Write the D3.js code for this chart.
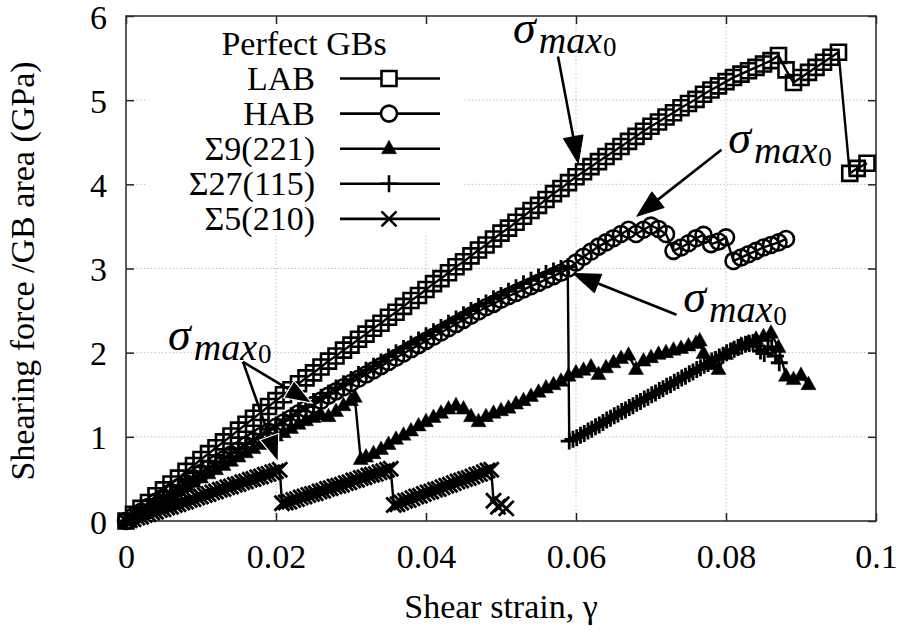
<!DOCTYPE html>
<html><head><meta charset="utf-8">
<script src="https://cdn.jsdelivr.net/npm/d3@7"></script>
</head><body style="margin:0;background:#fff">
<svg id="c" width="901" height="632" style="display:block" font-family="Liberation Serif"></svg>
<script>
const xTicks=[0,0.02,0.04,0.06,0.08,0.1];
const xTickLabels=["0","0.02","0.04","0.06","0.08","0.1"];
const yTicks=[0,1,2,3,4,5,6];
const yTickLabels=["0","1","2","3","4","5","6"];
const legendTitle="Perfect GBs";
const seriesNames=["LAB","HAB","Σ9(221)","Σ27(115)","Σ5(210)"];
const seriesMarkers=["square","circle","triangle","plus","x"];
const xLabel="Shear strain, γ";
const yLabel="Shearing force /GB area (GPa)";

const lab=[[0,0],[0.001,0.08],[0.002,0.15],[0.003,0.22],[0.004,0.30],[0.005,0.37],[0.006,0.44],[0.007,0.51],[0.008,0.59],[0.009,0.66],[0.010,0.73],[0.011,0.80],[0.012,0.87],[0.013,0.94],[0.014,1.01],[0.015,1.08],[0.016,1.15],[0.017,1.22],[0.018,1.29],[0.019,1.36],[0.020,1.43],[0.021,1.50],[0.022,1.56],[0.023,1.63],[0.024,1.70],[0.025,1.76],[0.026,1.83],[0.027,1.90],[0.028,1.96],[0.029,2.03],[0.030,2.09],[0.031,2.16],[0.032,2.22],[0.033,2.29],[0.034,2.35],[0.035,2.42],[0.036,2.48],[0.037,2.55],[0.038,2.62],[0.039,2.68],[0.040,2.75],[0.041,2.82],[0.042,2.88],[0.043,2.95],[0.044,3.02],[0.045,3.08],[0.046,3.15],[0.047,3.22],[0.048,3.28],[0.049,3.35],[0.050,3.42],[0.051,3.48],[0.052,3.55],[0.053,3.62],[0.054,3.69],[0.055,3.75],[0.056,3.82],[0.057,3.89],[0.058,3.95],[0.059,4.02],[0.060,4.09],[0.061,4.15],[0.062,4.21],[0.063,4.27],[0.064,4.33],[0.065,4.39],[0.066,4.45],[0.067,4.51],[0.068,4.57],[0.069,4.63],[0.070,4.69],[0.071,4.74],[0.072,4.80],[0.073,4.85],[0.074,4.91],[0.075,4.96],[0.076,5.01],[0.077,5.07],[0.078,5.12],[0.079,5.17],[0.080,5.22],[0.081,5.27],[0.082,5.31],[0.083,5.35],[0.084,5.39],[0.085,5.43],[0.086,5.47],[0.087,5.53],[0.088,5.36],[0.089,5.21],[0.090,5.27],[0.091,5.33],[0.092,5.39],[0.093,5.45],[0.094,5.51],[0.095,5.57],[0.0965,4.13],[0.0975,4.19],[0.0988,4.25]];

const hab=[[0,0],[0.001,0.06],[0.002,0.11],[0.003,0.17],[0.004,0.23],[0.005,0.28],[0.006,0.34],[0.007,0.40],[0.008,0.45],[0.009,0.51],[0.010,0.57],[0.011,0.62],[0.012,0.68],[0.013,0.73],[0.014,0.79],[0.015,0.84],[0.016,0.90],[0.017,0.95],[0.018,1.01],[0.019,1.06],[0.020,1.12],[0.021,1.17],[0.022,1.22],[0.023,1.28],[0.024,1.33],[0.025,1.38],[0.026,1.43],[0.027,1.49],[0.028,1.54],[0.029,1.59],[0.030,1.64],[0.031,1.69],[0.032,1.74],[0.033,1.79],[0.034,1.84],[0.035,1.89],[0.036,1.94],[0.037,1.99],[0.038,2.04],[0.039,2.09],[0.040,2.14],[0.041,2.19],[0.042,2.24],[0.043,2.29],[0.044,2.34],[0.045,2.39],[0.046,2.44],[0.047,2.49],[0.048,2.54],[0.049,2.58],[0.050,2.63],[0.051,2.67],[0.052,2.71],[0.053,2.75],[0.054,2.79],[0.055,2.83],[0.056,2.87],[0.057,2.91],[0.058,2.95],[0.059,3.00],[0.060,3.07],[0.061,3.14],[0.062,3.20],[0.063,3.26],[0.064,3.31],[0.065,3.36],[0.066,3.41],[0.067,3.46],[0.068,3.41],[0.069,3.46],[0.070,3.51],[0.071,3.47],[0.072,3.41],[0.073,3.21],[0.074,3.25],[0.075,3.30],[0.076,3.36],[0.077,3.40],[0.078,3.29],[0.079,3.32],[0.080,3.37],[0.081,3.09],[0.082,3.13],[0.083,3.17],[0.084,3.21],[0.085,3.25],[0.086,3.28],[0.087,3.31],[0.088,3.35]];

const s9=[[0,0],[0.001,0.05],[0.002,0.10],[0.003,0.15],[0.004,0.20],[0.005,0.26],[0.006,0.31],[0.007,0.36],[0.008,0.41],[0.009,0.46],[0.010,0.51],[0.011,0.56],[0.012,0.61],[0.013,0.66],[0.014,0.71],[0.015,0.76],[0.016,0.81],[0.017,0.86],[0.018,0.91],[0.019,0.96],[0.020,1.01],[0.021,1.05],[0.022,1.10],[0.023,1.15],[0.024,1.19],[0.025,1.23],[0.026,1.26],[0.027,1.24],[0.028,1.30],[0.029,1.37],[0.030,1.43],[0.0305,1.47],[0.0313,0.73],[0.032,0.76],[0.033,0.80],[0.034,0.85],[0.035,0.91],[0.036,0.97],[0.037,1.02],[0.038,1.07],[0.039,1.13],[0.040,1.18],[0.041,1.23],[0.042,1.28],[0.043,1.33],[0.044,1.37],[0.045,1.33],[0.046,1.24],[0.047,1.18],[0.048,1.24],[0.049,1.28],[0.050,1.31],[0.051,1.34],[0.052,1.39],[0.053,1.43],[0.054,1.48],[0.055,1.53],[0.056,1.58],[0.057,1.62],[0.058,1.66],[0.059,1.72],[0.060,1.76],[0.061,1.79],[0.062,1.83],[0.063,1.74],[0.064,1.82],[0.065,1.88],[0.066,1.93],[0.067,1.97],[0.068,1.80],[0.069,1.90],[0.070,1.94],[0.071,1.98],[0.072,2.00],[0.073,2.03],[0.074,2.05],[0.075,2.08],[0.076,2.11],[0.0765,2.14],[0.077,1.99],[0.078,1.86],[0.079,1.80],[0.080,1.98],[0.081,2.04],[0.082,2.09],[0.083,2.12],[0.084,2.16],[0.085,2.19],[0.086,2.23],[0.087,2.06],[0.088,1.72],[0.089,1.68],[0.090,1.73],[0.091,1.62]];

const s27=[[0,0],[0.001,0.06],[0.002,0.12],[0.003,0.17],[0.004,0.23],[0.005,0.29],[0.006,0.35],[0.007,0.40],[0.008,0.46],[0.009,0.52],[0.010,0.58],[0.011,0.64],[0.012,0.69],[0.013,0.75],[0.014,0.81],[0.015,0.86],[0.016,0.92],[0.017,0.97],[0.018,1.03],[0.019,1.09],[0.020,1.14],[0.021,1.20],[0.022,1.25],[0.023,1.31],[0.024,1.36],[0.025,1.42],[0.026,1.47],[0.027,1.52],[0.028,1.58],[0.029,1.63],[0.030,1.68],[0.031,1.74],[0.032,1.79],[0.033,1.84],[0.034,1.89],[0.035,1.95],[0.036,2.00],[0.037,2.05],[0.038,2.10],[0.039,2.15],[0.040,2.20],[0.041,2.25],[0.042,2.30],[0.043,2.35],[0.044,2.40],[0.045,2.45],[0.046,2.50],[0.047,2.55],[0.048,2.59],[0.049,2.64],[0.050,2.68],[0.051,2.73],[0.052,2.77],[0.053,2.82],[0.054,2.86],[0.055,2.90],[0.056,2.94],[0.057,2.97],[0.058,3.00],[0.0589,3.02],[0.0591,0.95],[0.0596,0.97],[0.0601,0.99],[0.0606,1.02],[0.0611,1.04],[0.0616,1.07],[0.0621,1.09],[0.0626,1.12],[0.0631,1.14],[0.0636,1.17],[0.0641,1.20],[0.0646,1.22],[0.0651,1.25],[0.0656,1.27],[0.0661,1.30],[0.0666,1.32],[0.0671,1.35],[0.0676,1.37],[0.0681,1.40],[0.0686,1.42],[0.0691,1.45],[0.0696,1.47],[0.0701,1.50],[0.0706,1.52],[0.0711,1.55],[0.0716,1.57],[0.0721,1.60],[0.0726,1.62],[0.0731,1.65],[0.0736,1.67],[0.0741,1.70],[0.0746,1.72],[0.0751,1.75],[0.0756,1.77],[0.0761,1.80],[0.0766,1.82],[0.0771,1.85],[0.0776,1.87],[0.0781,1.90],[0.0786,1.92],[0.0791,1.95],[0.0796,1.97],[0.0801,2.00],[0.0806,2.02],[0.0811,2.04],[0.0816,2.06],[0.0821,2.08],[0.0826,2.10],[0.0831,2.11],[0.0836,2.12],[0.0841,2.08],[0.0846,2.02],[0.0851,1.99],[0.0856,2.04],[0.0861,2.07],[0.0866,1.96],[0.0871,1.88]];

const s5=[[0,0],[0.0005,0.01],[0.0010,0.02],[0.0015,0.04],[0.0020,0.05],[0.0025,0.07],[0.0030,0.08],[0.0035,0.10],[0.0040,0.11],[0.0045,0.13],[0.0050,0.14],[0.0055,0.16],[0.0060,0.17],[0.0065,0.19],[0.0070,0.20],[0.0075,0.22],[0.0080,0.23],[0.0085,0.25],[0.0090,0.26],[0.0095,0.28],[0.0100,0.29],[0.0105,0.31],[0.0110,0.32],[0.0115,0.34],[0.0120,0.35],[0.0125,0.37],[0.0130,0.38],[0.0135,0.40],[0.0140,0.41],[0.0145,0.43],[0.0150,0.44],[0.0155,0.46],[0.0160,0.47],[0.0165,0.49],[0.0170,0.50],[0.0175,0.52],[0.0180,0.53],[0.0185,0.55],[0.0190,0.56],[0.0195,0.58],[0.0200,0.59],[0.0205,0.61],[0.0208,0.21],[0.0213,0.22],[0.0218,0.23],[0.0223,0.25],[0.0228,0.26],[0.0233,0.28],[0.0238,0.29],[0.0243,0.31],[0.0248,0.32],[0.0253,0.33],[0.0258,0.35],[0.0263,0.36],[0.0268,0.38],[0.0273,0.39],[0.0278,0.41],[0.0283,0.42],[0.0288,0.43],[0.0293,0.45],[0.0298,0.46],[0.0303,0.48],[0.0308,0.49],[0.0313,0.51],[0.0318,0.52],[0.0323,0.54],[0.0328,0.55],[0.0333,0.56],[0.0338,0.58],[0.0343,0.59],[0.0348,0.61],[0.0353,0.62],[0.0357,0.19],[0.0362,0.20],[0.0367,0.22],[0.0372,0.24],[0.0377,0.25],[0.0382,0.27],[0.0387,0.29],[0.0392,0.30],[0.0397,0.32],[0.0402,0.34],[0.0407,0.35],[0.0412,0.37],[0.0417,0.38],[0.0422,0.40],[0.0427,0.42],[0.0432,0.43],[0.0437,0.45],[0.0442,0.47],[0.0447,0.48],[0.0452,0.50],[0.0457,0.51],[0.0462,0.53],[0.0467,0.55],[0.0472,0.56],[0.0477,0.58],[0.0482,0.60],[0.0487,0.61],[0.0490,0.24],[0.0496,0.17],[0.0501,0.20],[0.0507,0.15]];

const seriesData=[lab,hab,s9,s27,s5];

// annotations: text anchor (strain, stress) and arrows [from, to] in data units
const annoLabels=[[0.0516,5.68],[0.0803,4.37],[0.0743,2.48],[0.0056,2.03]];
const annoArrows=[[[0.0576,5.52],[0.0603,4.25]],[[0.0794,4.41],[0.0681,3.62]],[[0.0734,2.45],[0.0596,2.94]],[[0.0156,1.89],[0.0248,1.40]],[[0.0156,1.89],[0.0203,0.70]]];

const FONT='"Liberation Serif"';
const svg=d3.select("#c");
const x=d3.scaleLinear().domain([0,0.1]).range([126,876]);
const y=d3.scaleLinear().domain([0,6]).range([521,16]);
const L=126,R=876,T=16,B=521;

// grid
const grid=svg.append("g").attr("stroke","#b4b4b4").attr("stroke-width",1).attr("stroke-dasharray","1.2,2.4");
grid.selectAll(".gx").data(xTicks.slice(1,-1)).join("line").attr("x1",d=>x(d)).attr("x2",d=>x(d)).attr("y1",T).attr("y2",B);
grid.selectAll(".gy").data(yTicks.slice(1,-1)).join("line").attr("y1",d=>y(d)).attr("y2",d=>y(d)).attr("x1",L).attr("x2",R);

// legend background (opaque key)
svg.append("rect").attr("x",147).attr("y",T+1).attr("width",315).attr("height",218).attr("fill","#fff");

// axes
function styleAxis(g){g.attr("font-family",null);g.select(".domain").remove();g.selectAll(".tick line").attr("stroke","#222").attr("stroke-width",1.5);}
svg.append("g").attr("transform",`translate(0,${B})`)
  .call(d3.axisBottom(x).tickValues(xTicks).tickFormat((d,i)=>xTickLabels[i]).tickSizeInner(-8).tickSizeOuter(0))
  .call(styleAxis)
  .call(g=>g.selectAll("text").attr("y",47).attr("dy",null).attr("font-size",34).attr("fill","#000"));
svg.append("g").attr("transform",`translate(0,${T})`)
  .call(d3.axisTop(x).tickValues(xTicks).tickFormat("").tickSizeInner(-8).tickSizeOuter(0)).call(styleAxis);
svg.append("g").attr("transform",`translate(${L},0)`)
  .call(d3.axisLeft(y).tickValues(yTicks).tickFormat((d,i)=>yTickLabels[i]).tickSizeInner(-8).tickSizeOuter(0))
  .call(styleAxis)
  .call(g=>g.selectAll("text").attr("x",-19).attr("dy",null).attr("y",12).attr("font-size",34).attr("fill","#000"));
svg.append("g").attr("transform",`translate(${R},0)`)
  .call(d3.axisRight(y).tickValues(yTicks).tickFormat("").tickSizeInner(-8).tickSizeOuter(0)).call(styleAxis);

// frame
svg.append("rect").attr("x",L).attr("y",T).attr("width",R-L).attr("height",B-T).attr("fill","none").attr("stroke","#333").attr("stroke-width",1.6);

// markers drawn as one combined path per series
function markerAt(type,cx,cy){
  switch(type){
    case "square": return `M${cx-7.5},${cy-7.5}h15v15h-15Z`;
    case "circle": return `M${cx+8},${cy}a8,8 0 1,1 -16,0a8,8 0 1,1 16,0Z`;
    case "triangle": return `M${cx},${cy-8.5}l7.5,13.5h-15Z`;
    case "plus": return `M${cx-8.5},${cy}h17M${cx},${cy-8.5}v17`;
    case "x": return `M${cx-7.5},${cy-7.5}l15,15M${cx-7.5},${cy+7.5}l15,-15`;
  }
}
const line=d3.line().x(d=>x(d[0])).y(d=>y(d[1]));
const dataG=svg.append("g");
seriesData.forEach((data,i)=>{
  const t=seriesMarkers[i];
  dataG.append("path").datum(data).attr("d",line).attr("fill","none").attr("stroke","#000").attr("stroke-width",2.4);
  dataG.append("path").datum(data)
    .attr("d",d=>d.map(p=>markerAt(t,x(p[0]),y(p[1]))).join(""))
    .attr("fill",t==="triangle"?"#000":"none")
    .attr("stroke","#000").attr("stroke-width",t==="triangle"?0.5:(t==="plus"||t==="x")?2.8:2.6);
});

// legend
const lg=svg.append("g").attr("font-size",34);
lg.append("text").attr("x",304).attr("y",55).attr("text-anchor","middle").text(legendTitle);
seriesNames.forEach((n,i)=>{
  const by=89.5+i*35.1;
  lg.append("text").attr("x",315).attr("y",by).attr("text-anchor","end").text(n);
  lg.append("line").attr("x1",340).attr("x2",440).attr("y1",by-11).attr("y2",by-11).attr("stroke","#000").attr("stroke-width",2.6);
  const t=seriesMarkers[i];
  lg.append("path").attr("d",markerAt(t,389,by-11))
    .attr("fill",t==="triangle"?"#000":(t==="plus"||t==="x")?"none":"#fff")
    .attr("stroke","#000").attr("stroke-width",t==="triangle"?0.5:2.6);
});

// annotation arrows
const ag=svg.append("g");
annoArrows.forEach((a,i)=>{
  const x1=x(a[0][0]),y1=y(a[0][1]),x2=x(a[1][0]),y2=y(a[1][1]);
  const dx=x2-x1,dy=y2-y1,len=Math.hypot(dx,dy),ux=dx/len,uy=dy/len;
  const hl=27,hw=10;
  const bx=x2-ux*hl,by=y2-uy*hl;
  const outlined=i>=3;
  ag.append("line").attr("x1",x1).attr("y1",y1).attr("x2",bx+ux*2).attr("y2",by+uy*2)
    .attr("stroke","#000").attr("stroke-width",2.6);
  ag.append("path").attr("d",`M${x2},${y2}L${bx-uy*hw},${by+ux*hw}L${bx+uy*hw},${by-ux*hw}Z`)
    .attr("fill","#000").attr("stroke",outlined?"#fff":"#000").attr("stroke-width",outlined?1.2:1);
});
// annotation labels sigma_{max_0}
annoLabels.forEach(p=>{
  const t=svg.append("text").attr("x",x(p[0])).attr("y",y(p[1])).attr("fill","#000");
  t.append("tspan").attr("font-size",46).style("font-style","italic").text("σ");
  t.append("tspan").attr("font-size",38).style("font-style","italic").attr("dx",3).attr("dy",10).text("max");
  t.append("tspan").attr("font-size",27).attr("dx",1).attr("dy",3).text("0");
});

// axis titles
svg.append("text").attr("x",501).attr("y",618).attr("text-anchor","middle").attr("font-size",34).text(xLabel);
svg.append("text").attr("transform","translate(34,271) rotate(-90)").attr("text-anchor","middle").attr("font-size",34).text(yLabel);

svg.selectAll("text").attr("font-family","Liberation Serif").style("font-family",FONT);
</script>
</body></html>
